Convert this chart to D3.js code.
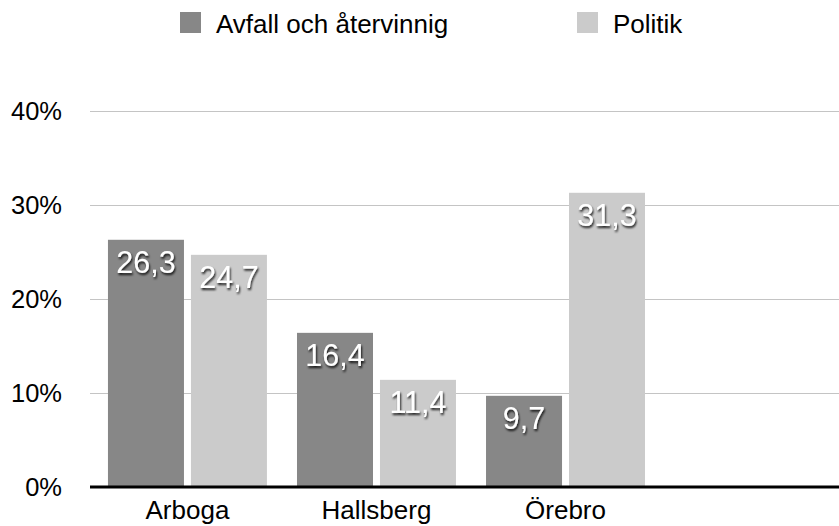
<!DOCTYPE html>
<html><head><meta charset="utf-8">
<script src="https://cdn.jsdelivr.net/npm/d3@7/dist/d3.min.js"></script>
<style>body{margin:0;background:#fff;}svg{display:block;font-family:Helvetica,"Liberation Sans",Arial,sans-serif;}</style>
</head><body>
<svg id="c" width="839" height="526"></svg>
<script>
const categories = ["Arboga", "Hallsberg", "Örebro"];
const seriesNames = ["Avfall och återvinnig", "Politik"];
const avfallValues = [26.3, 16.4, 9.7];
const politikValues = [24.7, 11.4, 31.3];
const yTicks = [0, 10, 20, 30, 40];
const colors = ["#878787", "#cbcbcb"];

const svg = d3.select("#c");
const defs = svg.append("defs");
const f = defs.append("filter").attr("id","sh").attr("x","-20%").attr("y","-20%").attr("width","140%").attr("height","150%");
f.append("feDropShadow").attr("dx",1).attr("dy",2).attr("stdDeviation",1.3).attr("flood-color","#000").attr("flood-opacity",0.85);

const y = d3.scaleLinear().domain([0,40]).range([487,111]);
const x0 = d3.scaleBand().domain([...categories, "_"]).range([90, 852]).paddingInner(0.159).paddingOuter(0.095);
const x1 = d3.scaleBand().domain(seriesNames).range([0, x0.bandwidth()]).paddingInner(0.084);

// gridlines
svg.append("g").selectAll("line").data(yTicks.filter(t=>t>0)).join("line")
  .attr("x1",90).attr("x2",839).attr("y1",d=>y(d)+0.5).attr("y2",d=>y(d)+0.5)
  .attr("stroke","#c4c4c4").attr("stroke-width",1);

// y labels
svg.append("g").selectAll("text").data(yTicks).join("text")
  .attr("x",62).attr("y",d=>y(d)).attr("dy","0.36em").attr("text-anchor","end")
  .attr("font-size",25.5).attr("fill","#000").text(d=>d+"%");

const data = categories.map((c,i)=>({cat:c, vals:[avfallValues[i], politikValues[i]]}));
const groups = svg.append("g").selectAll("g").data(data).join("g")
  .attr("transform",d=>`translate(${x0(d.cat)},0)`);
groups.selectAll("rect").data(d=>d.vals.map((v,j)=>({v, s:seriesNames[j], j}))).join("rect")
  .attr("x",d=>x1(d.s)).attr("width",x1.bandwidth())
  .attr("y",d=>y(d.v)).attr("height",d=>y(0)-y(d.v))
  .attr("fill",d=>colors[d.j]);
groups.selectAll("text").data(d=>d.vals.map((v,j)=>({v, s:seriesNames[j], j}))).join("text")
  .attr("x",d=>x1(d.s)+x1.bandwidth()/2).attr("y",d=>y(d.v)+33)
  .attr("text-anchor","middle").attr("font-size",30.5).attr("fill","#fff")
  .attr("filter","url(#sh)")
  .text(d=>d.v.toFixed(1).replace(".",","));

// axis line
svg.append("line").attr("x1",90).attr("x2",839).attr("y1",487).attr("y2",487)
  .attr("stroke","#000").attr("stroke-width",3);

// category labels
svg.append("g").selectAll("text").data(categories).join("text")
  .attr("x",d=>x0(d)+x0.bandwidth()/2).attr("y",519).attr("text-anchor","middle")
  .attr("font-size",26).attr("fill","#000").text(d=>d);

// legend
const legX = [180, 577];
const leg = svg.append("g").selectAll("g").data(seriesNames).join("g")
  .attr("transform",(d,i)=>`translate(${legX[i]},12)`);
leg.append("rect").attr("width",21).attr("height",21).attr("fill",(d,i)=>colors[i]);
leg.append("text").attr("x",36).attr("y",21).attr("font-size",26).attr("fill","#000").text(d=>d);
</script>
</body></html>
